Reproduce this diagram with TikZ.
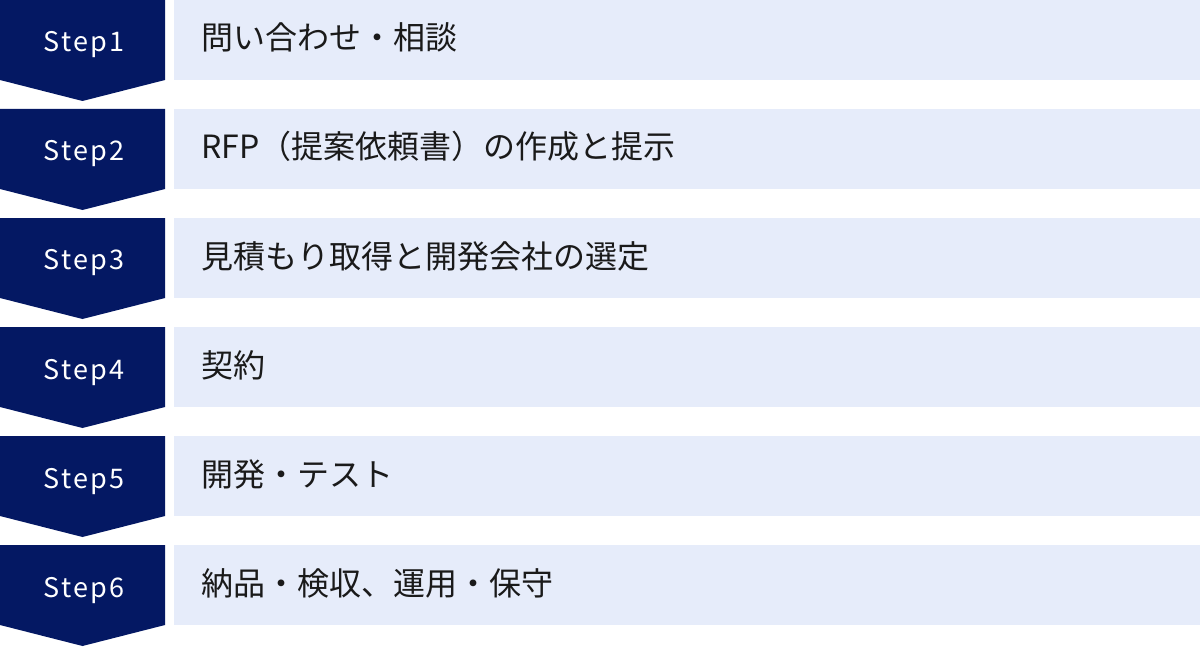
\documentclass[tikz,border=0pt]{standalone}
\usepackage{fontspec}
\setmainfont{Noto Sans CJK JP}
\usepackage{xcolor}
\usetikzlibrary{positioning}

\definecolor{azulescuro}{RGB}{4,24,99}
\definecolor{azulclaro}{RGB}{230,236,250}
\definecolor{textoescuro}{RGB}{26,26,26}

\tikzset{
	seta/.style={fill=azulescuro},
	caixa/.style={fill=azulclaro},
	rotulo/.style={anchor=base, inner sep=0pt, text=white,
		font=\fontsize{13.5}{16}\selectfont\addfontfeature{LetterSpace=9}},
	descricao/.style={anchor=base west, inner sep=0pt, text=textoescuro,
		font=\fontsize{16}{19}\selectfont}
}

\begin{document}
\begin{tikzpicture}[x=0.5pt, y=-0.5pt]
	\useasboundingbox (0,0) rectangle (1200,647);
	\foreach \i/\txt in {1/{問い合わせ・相談}, 2/{RFP（提案依頼書）の作成と提示},
		3/{見積もり取得と開発会社の選定}, 4/{契約}, 5/{開発・テスト},
		6/{納品・検収、運用・保守}}{
		\pgfmathsetmacro{\topo}{(\i-1)*109}
		% seta do passo
		\fill[seta] (0,\topo) -- (165,\topo) -- (165,\topo+80) -- (82.5,\topo+101) -- (0,\topo+80) -- cycle;
		\node[rotulo] (passo\i) at (84,\topo+52) {Step\i};
		% faixa com a descricao
		\fill[caixa] (174,\topo) rectangle (1200,\topo+80);
		\node[descricao] (texto\i) at (201,\topo+50) {\txt};
	}
\end{tikzpicture}
\end{document}
